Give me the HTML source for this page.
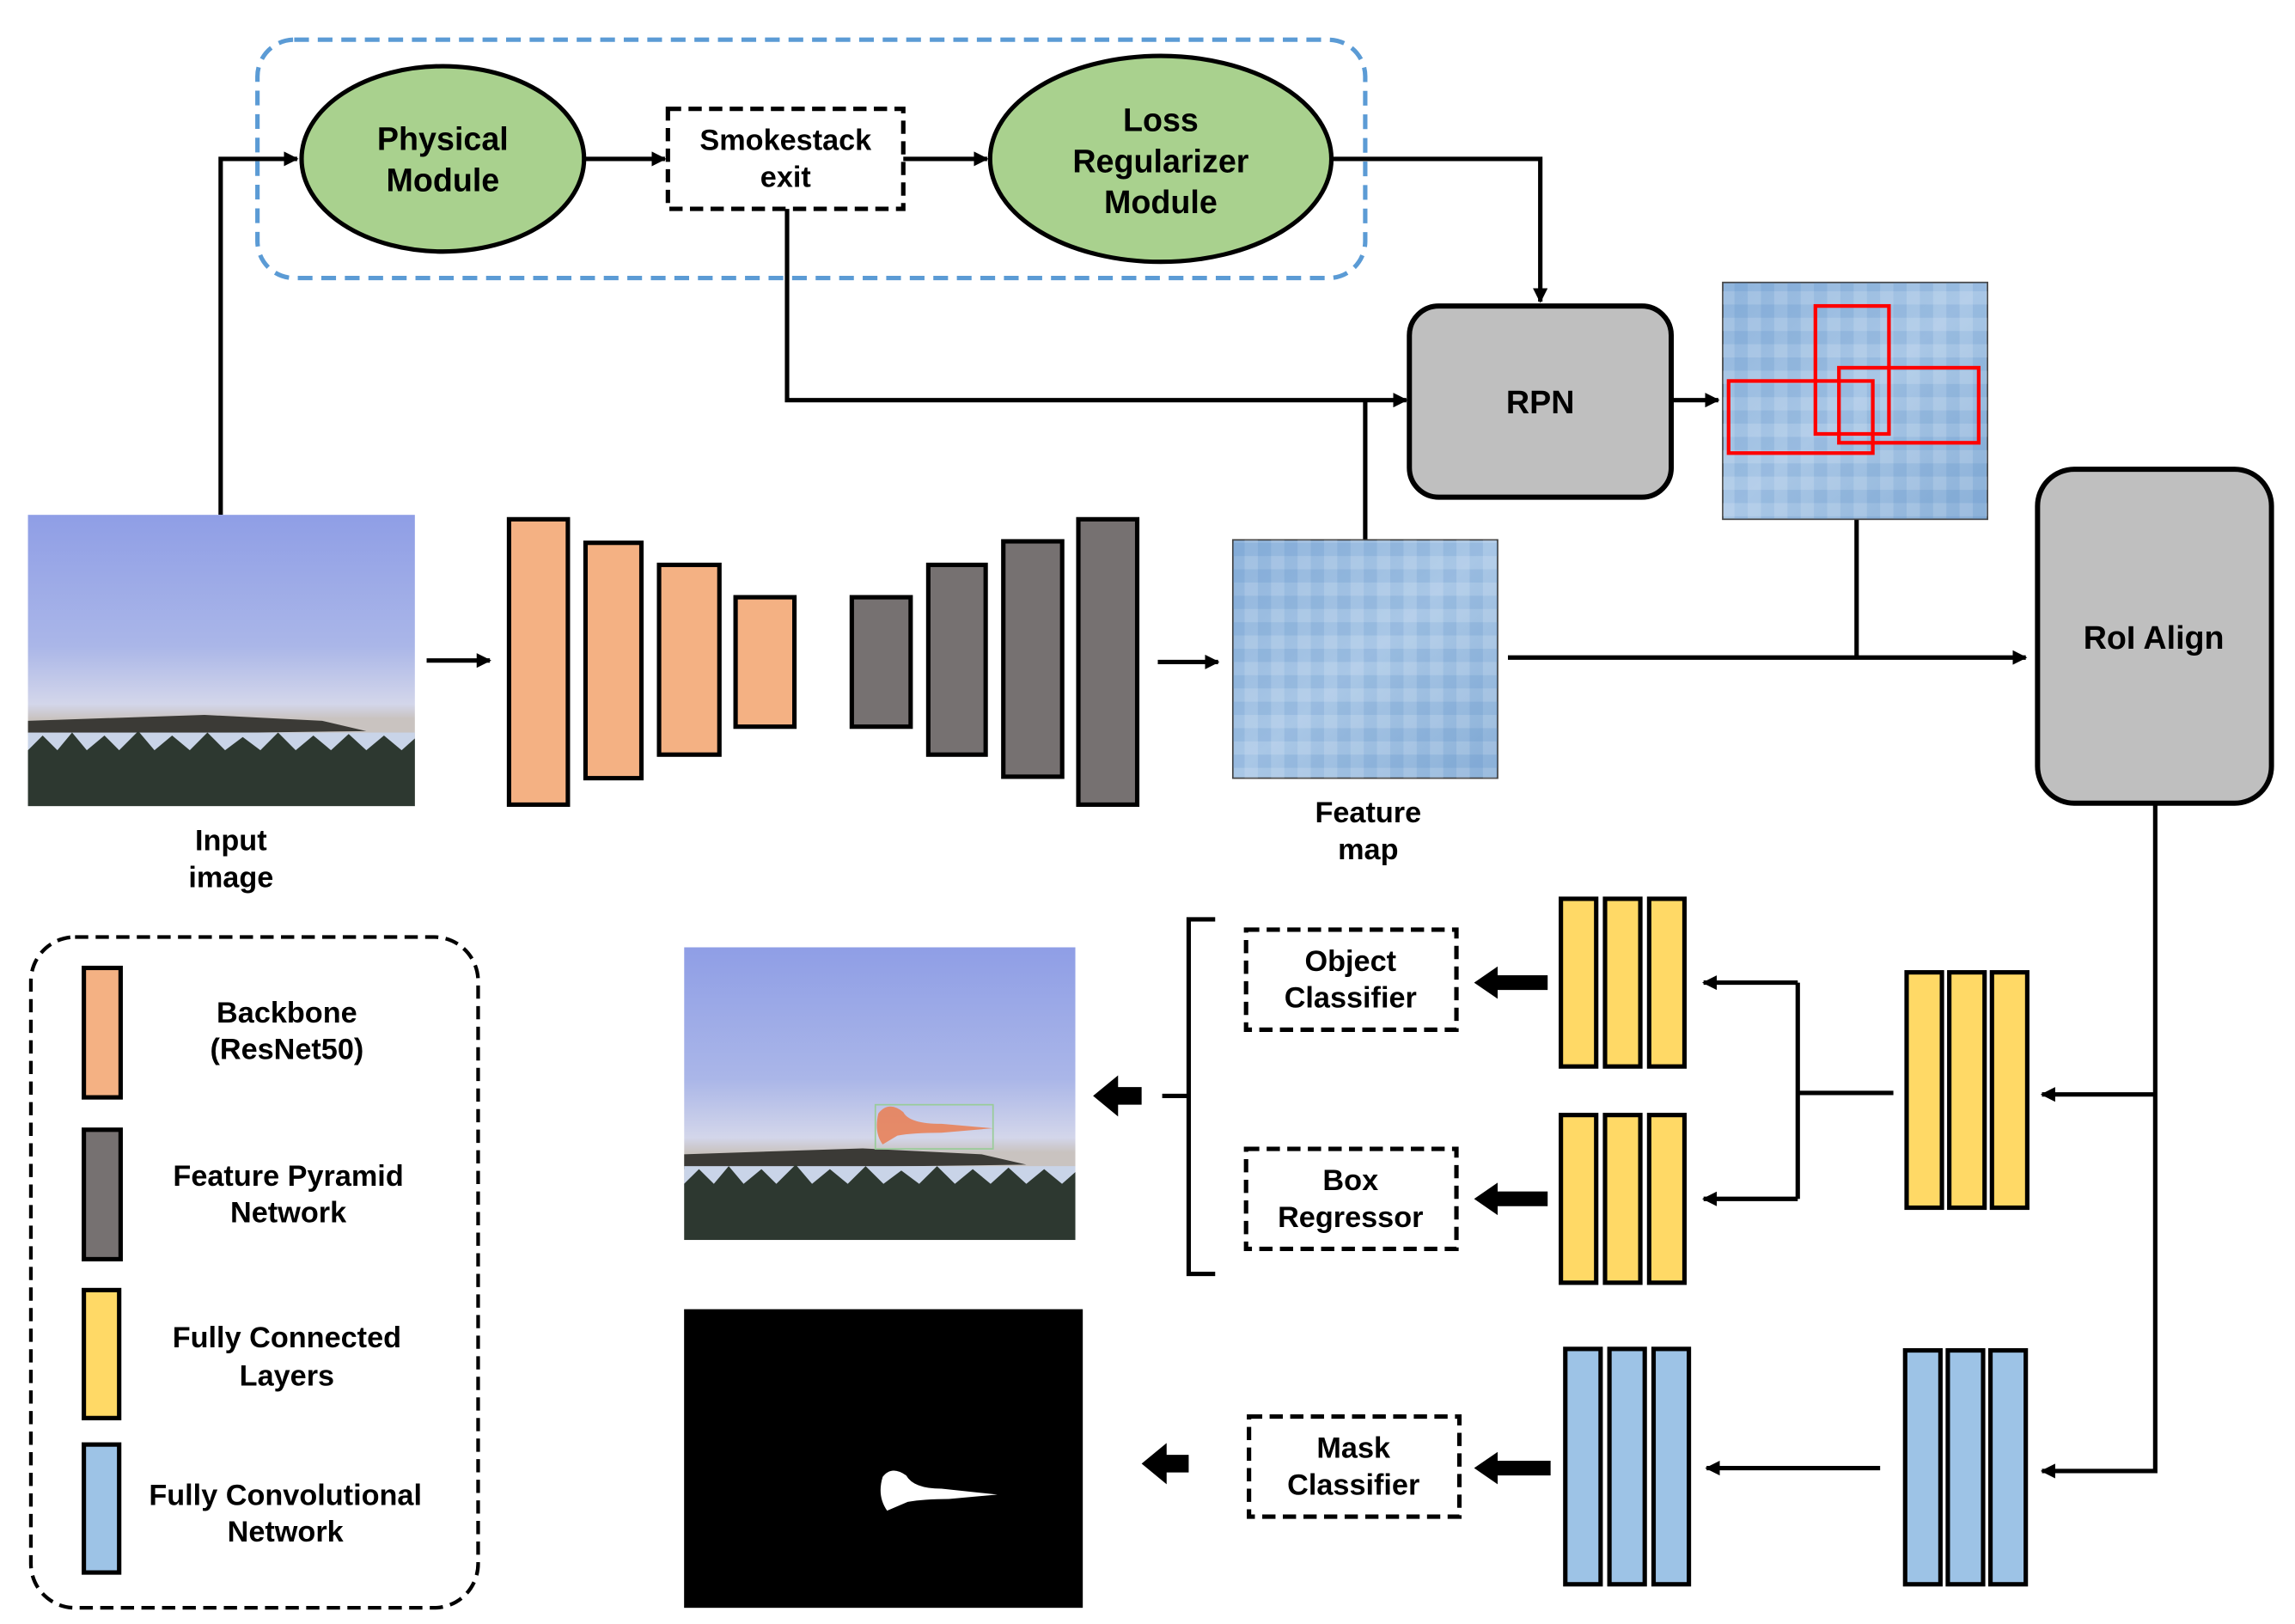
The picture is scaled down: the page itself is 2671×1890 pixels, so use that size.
<!DOCTYPE html>
<html><head><meta charset="utf-8"><style>
html,body{margin:0;padding:0;background:#fff;}
svg{display:block;}
text{font-family:"Liberation Sans",Arial,sans-serif;font-weight:bold;fill:#000;text-anchor:middle;}
</style></head><body>
<svg width="2671" height="1890" viewBox="0 0 1560 1104" preserveAspectRatio="none" xmlns="http://www.w3.org/2000/svg">
<defs>
<marker id="ar" markerWidth="10" markerHeight="10" refX="9" refY="5" orient="auto" markerUnits="userSpaceOnUse"><path d="M0,0 L10,5 L0,10 z" fill="#000"/></marker>
<linearGradient id="sky" x1="0" y1="0" x2="0" y2="1">
<stop offset="0" stop-color="#8f9ee6"/><stop offset="0.45" stop-color="#aab6e8"/><stop offset="0.65" stop-color="#d3d6ea"/><stop offset="0.7" stop-color="#c9c3c0"/></linearGradient>
<linearGradient id="fm" x1="0" y1="0" x2="1" y2="1"><stop offset="0" stop-color="#8fb4dc"/><stop offset="0.5" stop-color="#a9c7e6"/><stop offset="1" stop-color="#8ab0d8"/></linearGradient>
<pattern id="px" width="18" height="18" patternUnits="userSpaceOnUse"><rect width="9" height="9" fill="#ffffff" opacity="0.15"/><rect x="9" y="9" width="9" height="9" fill="#3f78b8" opacity="0.15"/></pattern>
<g id="photo">
<rect x="0" y="0" width="263" height="198" fill="url(#sky)"/>
<path d="M0,140 L120,136 L200,140 L230,147 L0,150 z" fill="#3b3a36"/>
<rect x="0" y="148" width="263" height="14" fill="#c9d4e8"/>
<path d="M0,160 L10,150 L20,160 L30,148 L40,160 L52,150 L62,160 L75,147 L86,160 L98,150 L110,160 L122,148 L134,160 L146,151 L158,160 L170,148 L182,160 L194,150 L206,160 L218,149 L230,160 L242,150 L254,160 L263,152 L263,198 L0,198 z" fill="#2d3830"/>
</g>
</defs>

<!-- top dashed group -->
<rect x="175" y="27" width="753" height="162" rx="25" fill="none" stroke="#5b9bd5" stroke-width="3" stroke-dasharray="10,6"/>
<ellipse cx="301" cy="108" rx="96" ry="63" fill="#a9d18e" stroke="#000" stroke-width="3"/>
<text x="301" y="102" font-size="22">Physical</text><text x="301" y="130" font-size="22">Module</text>
<rect x="454" y="74" width="160" height="68" fill="#fff" stroke="#000" stroke-width="3" stroke-dasharray="9,5"/>
<text x="534" y="102" font-size="20">Smokestack</text><text x="534" y="127" font-size="20">exit</text>
<ellipse cx="789" cy="108" rx="116" ry="70" fill="#a9d18e" stroke="#000" stroke-width="3"/>
<text x="789" y="89" font-size="22">Loss</text><text x="789" y="117" font-size="22">Regularizer</text><text x="789" y="145" font-size="22">Module</text>

<g stroke="#000" stroke-width="3" fill="none">
<path d="M150,350 V108 H202" marker-end="url(#ar)"/>
<path d="M398,108 H452" marker-end="url(#ar)"/>
<path d="M614,108 H671" marker-end="url(#ar)"/>
<path d="M905,108 H1047 V205" marker-end="url(#ar)"/>
<path d="M535,142 V272 H956" marker-end="url(#ar)"/>
<path d="M928,367 V272"/>
<path d="M1136,272 H1168" marker-end="url(#ar)"/>
<path d="M1262,353 V447"/>
<path d="M1025,447 H1377" marker-end="url(#ar)"/>
<path d="M290,449 H333" marker-end="url(#ar)"/>
<path d="M787,450 H828" marker-end="url(#ar)"/>
<path d="M1465,546 V1000 H1388" marker-end="url(#ar)"/>
<path d="M1465,744 H1388" marker-end="url(#ar)"/>
<path d="M1287,743 H1222 M1222,668 V815"/>
<path d="M1222,668 H1158" marker-end="url(#ar)"/>
<path d="M1222,815 H1158" marker-end="url(#ar)"/>
<path d="M1278,998 H1160" marker-end="url(#ar)"/>
<path d="M826,625 H808 V866 H826 M808,745 H790"/>
</g>
<!-- thick arrows -->
<g fill="#000">
<path d="M1052,663 H1018 V657 L1002,668 L1018,679 V673 H1052 z"/>
<path d="M1052,810 H1018 V804 L1002,815 L1018,826 V820 H1052 z"/>
<path d="M1054,993 H1018 V987 L1002,998 L1018,1009 V1003 H1054 z"/>
<path d="M776,739 H760 V731 L743,745 L760,759 V751 H776 z"/>
<path d="M808,989 H793 V981 L776,995 L793,1009 V1001 H808 z"/>
</g>

<!-- RPN -->
<rect x="958" y="208" width="178" height="130" rx="20" fill="#bfbfbf" stroke="#000" stroke-width="3.5"/>
<text x="1047" y="281" font-size="22">RPN</text>
<rect x="1171" y="192" width="180" height="161" fill="url(#fm)" stroke="#444" stroke-width="1"/>
<rect x="1171" y="192" width="180" height="161" fill="url(#px)"/>
<g fill="none" stroke="#f00" stroke-width="2.5">
<rect x="1234" y="208" width="50" height="87"/><rect x="1250" y="250" width="95" height="51"/><rect x="1175" y="259" width="98" height="49"/>
</g>
<!-- RoI -->
<rect x="1385" y="319" width="159" height="227" rx="25" fill="#bfbfbf" stroke="#000" stroke-width="3.5"/>
<text x="1464" y="441" font-size="22">RoI Align</text>

<!-- input image -->
<use href="#photo" x="19" y="350"/>
<text x="157" y="578" font-size="20">Input</text><text x="157" y="603" font-size="20">image</text>

<!-- backbone/FPN bars -->
<g stroke="#000" stroke-width="3">
<rect x="346" y="353" width="40" height="194" fill="#f4b183"/>
<rect x="398" y="369" width="38" height="160" fill="#f4b183"/>
<rect x="448" y="384" width="41" height="129" fill="#f4b183"/>
<rect x="500" y="406" width="40" height="88" fill="#f4b183"/>
<rect x="579" y="406" width="40" height="88" fill="#767171"/>
<rect x="631" y="384" width="39" height="129" fill="#767171"/>
<rect x="682" y="368" width="40" height="160" fill="#767171"/>
<rect x="733" y="353" width="40" height="194" fill="#767171"/>
</g>
<!-- feature map -->
<rect x="838" y="367" width="180" height="162" fill="url(#fm)" stroke="#444" stroke-width="1"/>
<rect x="838" y="367" width="180" height="162" fill="url(#px)"/>
<text x="930" y="559" font-size="20">Feature</text><text x="930" y="584" font-size="20">map</text>

<!-- legend -->
<rect x="21" y="637" width="304" height="456" rx="30" fill="none" stroke="#000" stroke-width="2.5" stroke-dasharray="9,5"/>
<g stroke="#000" stroke-width="3">
<rect x="57" y="658" width="25" height="88" fill="#f4b183"/>
<rect x="57" y="768" width="25" height="88" fill="#767171"/>
<rect x="57" y="877" width="24" height="87" fill="#ffd966"/>
<rect x="57" y="982" width="24" height="87" fill="#9dc3e6"/>
</g>
<text x="195" y="695" font-size="20">Backbone</text><text x="195" y="720" font-size="20">(ResNet50)</text>
<text x="196" y="806" font-size="20">Feature Pyramid</text><text x="196" y="831" font-size="20">Network</text>
<text x="195" y="916" font-size="20">Fully Connected</text><text x="195" y="942" font-size="20">Layers</text>
<text x="194" y="1023" font-size="20">Fully Convolutional</text><text x="194" y="1048" font-size="20">Network</text>

<!-- output images -->
<svg x="465" y="644" width="266" height="199" viewBox="0 0 263 198" preserveAspectRatio="none"><use href="#photo"/></svg>
<rect x="595" y="751" width="80" height="30" fill="none" stroke="#9c9" stroke-width="1"/>
<path d="M597,757 Q604,748 614,756 Q618,764 640,764 L675,767 L640,770 Q620,770 610,772 L600,778 Q594,770 597,757 z" fill="#e8825a" opacity="0.9"/>
<rect x="465" y="890" width="271" height="203" fill="#000"/>
<path d="M600,1004 Q606,996 616,1003 Q621,1012 640,1012 L678,1016 L645,1019 Q628,1019 617,1021 L603,1027 Q596,1017 600,1004 z" fill="#fff"/>

<!-- classifier boxes -->
<g fill="#fff" stroke="#000" stroke-width="3" stroke-dasharray="9,5">
<rect x="847" y="632" width="143" height="68"/>
<rect x="847" y="781" width="143" height="68"/>
<rect x="849" y="963" width="143" height="68"/>
</g>
<text x="918" y="660" font-size="20">Object</text><text x="918" y="685" font-size="20">Classifier</text>
<text x="918" y="809" font-size="20">Box</text><text x="918" y="834" font-size="20">Regressor</text>
<text x="920" y="991" font-size="20">Mask</text><text x="920" y="1016" font-size="20">Classifier</text>

<!-- FC/FCN bars -->
<g stroke="#000" stroke-width="3">
<rect x="1061" y="611" width="24" height="114" fill="#ffd966"/><rect x="1091" y="611" width="24" height="114" fill="#ffd966"/><rect x="1121" y="611" width="24" height="114" fill="#ffd966"/>
<rect x="1061" y="758" width="24" height="114" fill="#ffd966"/><rect x="1091" y="758" width="24" height="114" fill="#ffd966"/><rect x="1121" y="758" width="24" height="114" fill="#ffd966"/>
<rect x="1296" y="661" width="24" height="160" fill="#ffd966"/><rect x="1325" y="661" width="24" height="160" fill="#ffd966"/><rect x="1354" y="661" width="24" height="160" fill="#ffd966"/>
<rect x="1064" y="917" width="24" height="160" fill="#9dc3e6"/><rect x="1094" y="917" width="24" height="160" fill="#9dc3e6"/><rect x="1124" y="917" width="24" height="160" fill="#9dc3e6"/>
<rect x="1295" y="918" width="24" height="159" fill="#9dc3e6"/><rect x="1324" y="918" width="24" height="159" fill="#9dc3e6"/><rect x="1353" y="918" width="24" height="159" fill="#9dc3e6"/>
</g>
</svg>
</body></html>
